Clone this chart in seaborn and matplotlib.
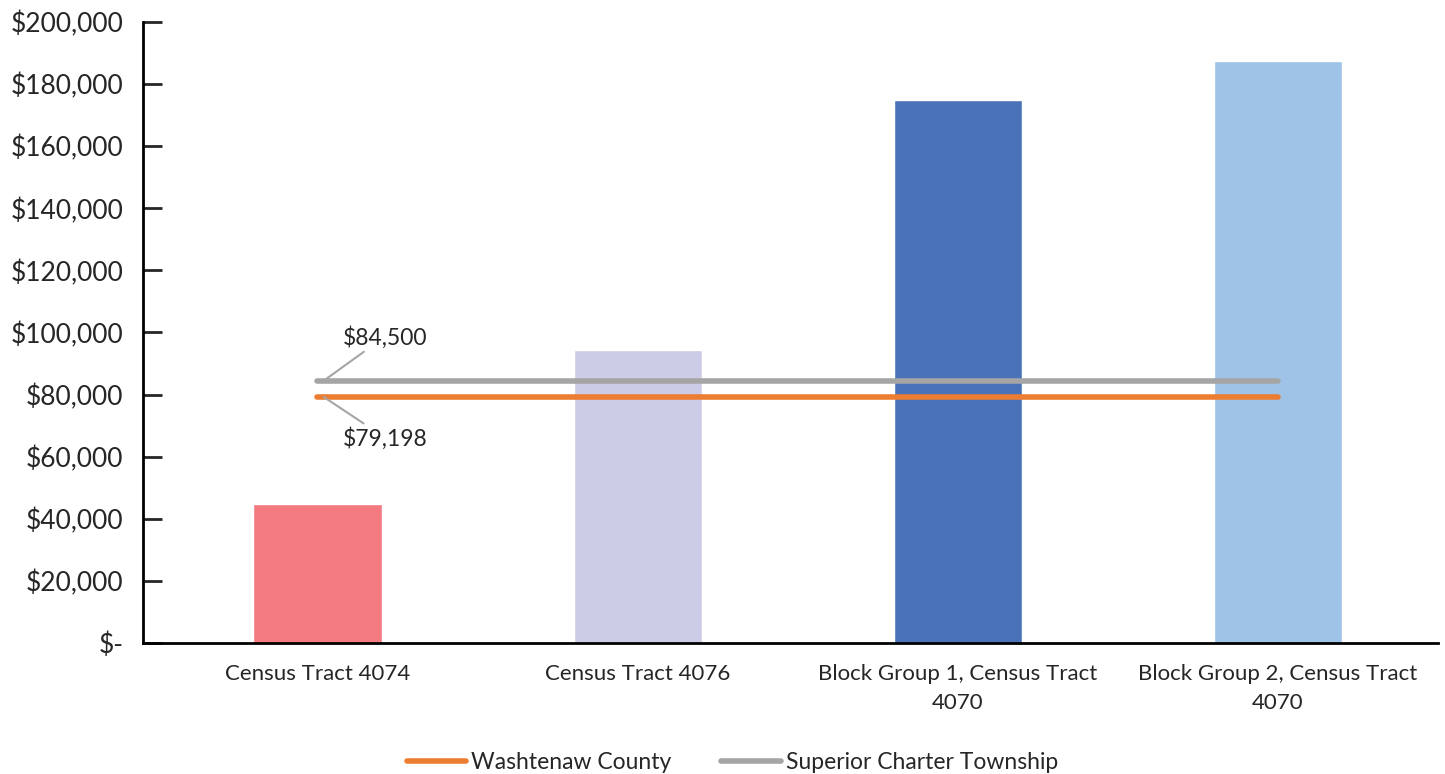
import numpy as np
import pandas as pd
import seaborn as sns
import matplotlib.pyplot as plt

categories = ['Census Tract 4074', 'Census Tract 4076',
              'Block Group 1, Census Tract\n4070', 'Block Group 2, Census Tract\n4070']
income = [44700, 94500, 175000, 187400]
bar_colors = ['#F27A80', '#CDCCE6', '#4A72B8', '#9FC3E6']

county_name = 'Washtenaw County'
county_value = 79198
township_name = 'Superior Charter Township'
township_value = 84500

yticks = list(range(0, 200001, 20000))

sns.set_style('white')
plt.rcParams['font.family'] = ['Lato', 'DejaVu Sans']

fig = plt.figure(figsize=(14.45, 7.74), dpi=100)
ax = fig.add_axes([0.099, 0.1693, 0.896, 0.8023])

df = pd.DataFrame({'cat': categories, 'val': income})
sns.barplot(data=df, x='cat', y='val', hue='cat', palette=bar_colors,
            width=0.4, saturation=1, legend=False, ax=ax)

xs = np.arange(len(categories))
sns.lineplot(x=xs, y=[county_value] * len(xs), color='#ED7D31', linewidth=4,
             solid_capstyle='round', label=county_name, ax=ax)
sns.lineplot(x=xs, y=[township_value] * len(xs), color='#A5A5A5', linewidth=4,
             solid_capstyle='round', label=township_name, ax=ax)

ax.annotate(f'${township_value:,}', xy=(0.02, township_value), xytext=(0.08, 98500),
            fontsize=16.5, ha='left', va='center',
            arrowprops=dict(arrowstyle='-', color='#A5A5A5', lw=1.5, shrinkA=0, shrinkB=0,
                            relpos=(0.3, 0)))
ax.annotate(f'${county_value:,}', xy=(0.02, county_value), xytext=(0.08, 66000),
            fontsize=16.5, ha='left', va='center',
            arrowprops=dict(arrowstyle='-', color='#A5A5A5', lw=1.5, shrinkA=0, shrinkB=0,
                            relpos=(0.3, 1)))

ax.set_xlim(-0.545, 3.5)
ax.set_ylim(0, 200000)
ax.set_yticks(yticks)
ax.set_yticklabels(['$-'] + [f'${v:,}' for v in yticks[1:]], fontsize=19)
ax.tick_params(axis='y', direction='in', length=14, width=2, left=True, pad=14)
ax.tick_params(axis='x', length=0, labelsize=16, pad=15)
for lbl in ax.get_xticklabels():
    lbl.set_linespacing(1.6)
ax.set_xlabel('')
ax.set_ylabel('')

sns.despine(ax=ax)
for s in ['left', 'bottom']:
    ax.spines[s].set_linewidth(2)
    ax.spines[s].set_color('black')

ax.legend(loc='center', bbox_to_anchor=(0.455, -0.192), ncol=2, frameon=False,
          fontsize=16.5, handlelength=2.6, columnspacing=2.2, handletextpad=0.2)

fig.savefig('out.png', dpi=100)
